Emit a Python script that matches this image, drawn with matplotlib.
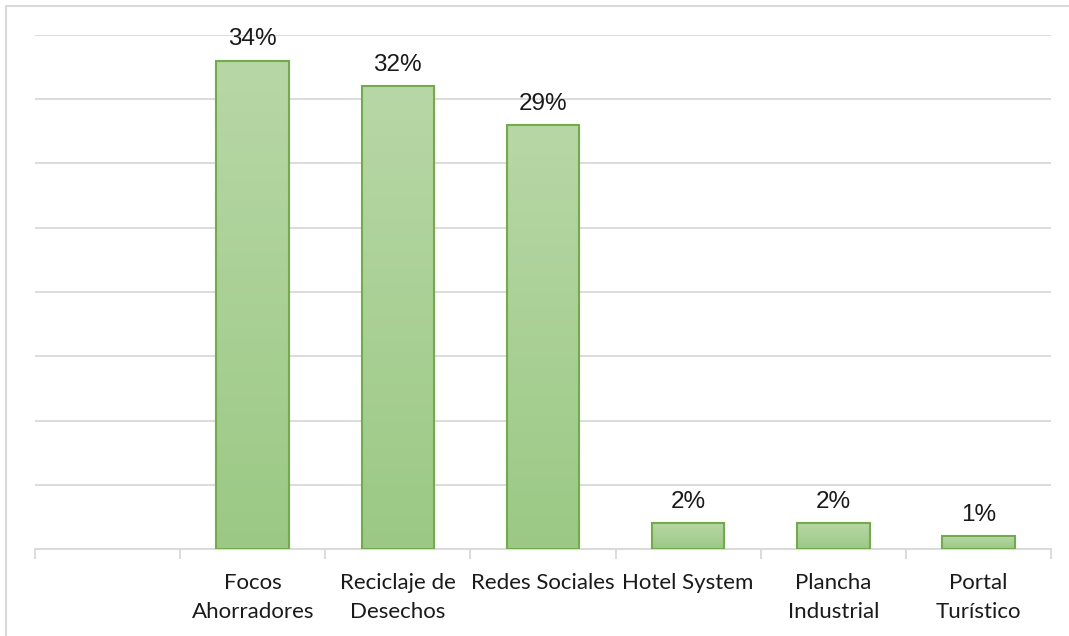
import numpy as np
import matplotlib.pyplot as plt
from matplotlib.colors import LinearSegmentedColormap
from matplotlib.patches import Rectangle

# data: counts (labels shown as share of total)
categories = ['', 'Focos\nAhorradores', 'Reciclaje de\nDesechos', 'Redes Sociales',
              'Hotel System', 'Plancha\nIndustrial', 'Portal\nTurístico']
counts = [0, 38, 36, 33, 2, 2, 1]
pct_labels = ['', '34%', '32%', '29%', '2%', '2%', '1%']

W, H = 1069, 636
fig = plt.figure(figsize=(W / 100, H / 100), dpi=100)
ax = fig.add_axes([35 / W, (H - 549) / H, (1051 - 35) / W, (549 - 35) / H])

# chart area border
fig.patches.append(Rectangle((5.5 / W, -0.01), 1.2, (H - 5.5) / H + 0.01,
                             transform=fig.transFigure, fill=False,
                             edgecolor='#d9d9d9', linewidth=1.5))

x = np.arange(len(categories))
cnt = np.array(counts, dtype=float)
has = cnt > 0

ax.set_yticks(np.arange(0, 41, 5))
ax.yaxis.grid(True, color='#d9d9d9', linewidth=1.3)
ax.set_axisbelow(True)
for s in ['top', 'right', 'left']:
    ax.spines[s].set_visible(False)
ax.spines['bottom'].set_color('#d9d9d9')
ax.spines['bottom'].set_linewidth(1.3)
ax.tick_params(axis='y', left=False, labelleft=False)

# tick marks at slot boundaries
ax.set_xticks(np.arange(-0.5, len(categories), 1.0))
ax.set_xticklabels([])
ax.tick_params(axis='x', length=7, width=1.3, color='#d9d9d9', direction='out')

cmap = LinearSegmentedColormap.from_list('g', ['#9bc985', '#b8d7a6'])
grad = np.linspace(0, 1, 256).reshape(-1, 1)
bw = 0.5
ax.bar(x[has], cnt[has], width=bw, color='none', edgecolor='#70ad47', linewidth=1.5, zorder=3)
for xi, c, lab in zip(x[has], cnt[has], np.array(pct_labels)[has]):
    ax.imshow(grad, cmap=cmap, origin='lower', aspect='auto',
              extent=(xi - bw / 2, xi + bw / 2, 0, c), zorder=2)
    ax.annotate(lab, (xi, c), xytext=(0, 11), textcoords='offset points',
                ha='center', va='baseline', fontsize=17.5,
                family='Liberation Sans', color='#1a1a1a')
ax.set_xlim(-0.5, len(categories) - 0.5)
ax.set_ylim(0, 40)

for xi, lab in zip(x, categories):
    ax.annotate(lab, (xi, 0), xytext=(0, -17), textcoords='offset points',
                ha='center', va='top', fontsize=16, family='Lato',
                color='#1a1a1a', linespacing=1.6, annotation_clip=False)

fig.savefig('out.png', dpi=100)
